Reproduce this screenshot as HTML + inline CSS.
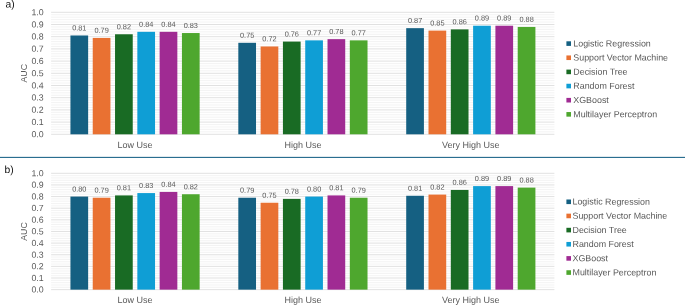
<!DOCTYPE html>
<html><head><meta charset="utf-8"><title>AUC charts</title>
<style>
html,body{margin:0;padding:0;background:#fff;}
body{width:685px;height:305px;overflow:hidden;font-family:"Liberation Sans",sans-serif;}
svg{display:block;will-change:transform;font-family:"Liberation Sans",sans-serif;}
</style></head><body>
<svg width="685" height="305" viewBox="0 0 685 305">
<rect width="685" height="305" fill="#ffffff"/>
<line x1="51.1" x2="554.4" y1="131.86" y2="131.86" stroke="#F0F0F0" stroke-width="0.8"/>
<line x1="51.1" x2="554.4" y1="129.42" y2="129.42" stroke="#F0F0F0" stroke-width="0.8"/>
<line x1="51.1" x2="554.4" y1="126.98" y2="126.98" stroke="#F0F0F0" stroke-width="0.8"/>
<line x1="51.1" x2="554.4" y1="124.54" y2="124.54" stroke="#F0F0F0" stroke-width="0.8"/>
<line x1="51.1" x2="554.4" y1="119.66" y2="119.66" stroke="#F0F0F0" stroke-width="0.8"/>
<line x1="51.1" x2="554.4" y1="117.22" y2="117.22" stroke="#F0F0F0" stroke-width="0.8"/>
<line x1="51.1" x2="554.4" y1="114.78" y2="114.78" stroke="#F0F0F0" stroke-width="0.8"/>
<line x1="51.1" x2="554.4" y1="112.34" y2="112.34" stroke="#F0F0F0" stroke-width="0.8"/>
<line x1="51.1" x2="554.4" y1="107.46" y2="107.46" stroke="#F0F0F0" stroke-width="0.8"/>
<line x1="51.1" x2="554.4" y1="105.02" y2="105.02" stroke="#F0F0F0" stroke-width="0.8"/>
<line x1="51.1" x2="554.4" y1="102.58" y2="102.58" stroke="#F0F0F0" stroke-width="0.8"/>
<line x1="51.1" x2="554.4" y1="100.14" y2="100.14" stroke="#F0F0F0" stroke-width="0.8"/>
<line x1="51.1" x2="554.4" y1="95.26" y2="95.26" stroke="#F0F0F0" stroke-width="0.8"/>
<line x1="51.1" x2="554.4" y1="92.82" y2="92.82" stroke="#F0F0F0" stroke-width="0.8"/>
<line x1="51.1" x2="554.4" y1="90.38" y2="90.38" stroke="#F0F0F0" stroke-width="0.8"/>
<line x1="51.1" x2="554.4" y1="87.94" y2="87.94" stroke="#F0F0F0" stroke-width="0.8"/>
<line x1="51.1" x2="554.4" y1="83.06" y2="83.06" stroke="#F0F0F0" stroke-width="0.8"/>
<line x1="51.1" x2="554.4" y1="80.62" y2="80.62" stroke="#F0F0F0" stroke-width="0.8"/>
<line x1="51.1" x2="554.4" y1="78.18" y2="78.18" stroke="#F0F0F0" stroke-width="0.8"/>
<line x1="51.1" x2="554.4" y1="75.74" y2="75.74" stroke="#F0F0F0" stroke-width="0.8"/>
<line x1="51.1" x2="554.4" y1="70.86" y2="70.86" stroke="#F0F0F0" stroke-width="0.8"/>
<line x1="51.1" x2="554.4" y1="68.42" y2="68.42" stroke="#F0F0F0" stroke-width="0.8"/>
<line x1="51.1" x2="554.4" y1="65.98" y2="65.98" stroke="#F0F0F0" stroke-width="0.8"/>
<line x1="51.1" x2="554.4" y1="63.54" y2="63.54" stroke="#F0F0F0" stroke-width="0.8"/>
<line x1="51.1" x2="554.4" y1="58.66" y2="58.66" stroke="#F0F0F0" stroke-width="0.8"/>
<line x1="51.1" x2="554.4" y1="56.22" y2="56.22" stroke="#F0F0F0" stroke-width="0.8"/>
<line x1="51.1" x2="554.4" y1="53.78" y2="53.78" stroke="#F0F0F0" stroke-width="0.8"/>
<line x1="51.1" x2="554.4" y1="51.34" y2="51.34" stroke="#F0F0F0" stroke-width="0.8"/>
<line x1="51.1" x2="554.4" y1="46.46" y2="46.46" stroke="#F0F0F0" stroke-width="0.8"/>
<line x1="51.1" x2="554.4" y1="44.02" y2="44.02" stroke="#F0F0F0" stroke-width="0.8"/>
<line x1="51.1" x2="554.4" y1="41.58" y2="41.58" stroke="#F0F0F0" stroke-width="0.8"/>
<line x1="51.1" x2="554.4" y1="39.14" y2="39.14" stroke="#F0F0F0" stroke-width="0.8"/>
<line x1="51.1" x2="554.4" y1="34.26" y2="34.26" stroke="#F0F0F0" stroke-width="0.8"/>
<line x1="51.1" x2="554.4" y1="31.82" y2="31.82" stroke="#F0F0F0" stroke-width="0.8"/>
<line x1="51.1" x2="554.4" y1="29.38" y2="29.38" stroke="#F0F0F0" stroke-width="0.8"/>
<line x1="51.1" x2="554.4" y1="26.94" y2="26.94" stroke="#F0F0F0" stroke-width="0.8"/>
<line x1="51.1" x2="554.4" y1="22.06" y2="22.06" stroke="#F0F0F0" stroke-width="0.8"/>
<line x1="51.1" x2="554.4" y1="19.62" y2="19.62" stroke="#F0F0F0" stroke-width="0.8"/>
<line x1="51.1" x2="554.4" y1="17.18" y2="17.18" stroke="#F0F0F0" stroke-width="0.8"/>
<line x1="51.1" x2="554.4" y1="14.74" y2="14.74" stroke="#F0F0F0" stroke-width="0.8"/>
<line x1="51.1" x2="554.4" y1="134.30" y2="134.30" stroke="#D9D9D9" stroke-width="0.8"/>
<text transform="translate(43.70,137.20) rotate(0.05)" text-anchor="end" font-size="8.8" fill="#595959">0.0</text>
<line x1="51.1" x2="554.4" y1="122.10" y2="122.10" stroke="#D9D9D9" stroke-width="0.8"/>
<text transform="translate(43.70,125.00) rotate(0.05)" text-anchor="end" font-size="8.8" fill="#595959">0.1</text>
<line x1="51.1" x2="554.4" y1="109.90" y2="109.90" stroke="#D9D9D9" stroke-width="0.8"/>
<text transform="translate(43.70,112.80) rotate(0.05)" text-anchor="end" font-size="8.8" fill="#595959">0.2</text>
<line x1="51.1" x2="554.4" y1="97.70" y2="97.70" stroke="#D9D9D9" stroke-width="0.8"/>
<text transform="translate(43.70,100.60) rotate(0.05)" text-anchor="end" font-size="8.8" fill="#595959">0.3</text>
<line x1="51.1" x2="554.4" y1="85.50" y2="85.50" stroke="#D9D9D9" stroke-width="0.8"/>
<text transform="translate(43.70,88.40) rotate(0.05)" text-anchor="end" font-size="8.8" fill="#595959">0.4</text>
<line x1="51.1" x2="554.4" y1="73.30" y2="73.30" stroke="#D9D9D9" stroke-width="0.8"/>
<text transform="translate(43.70,76.20) rotate(0.05)" text-anchor="end" font-size="8.8" fill="#595959">0.5</text>
<line x1="51.1" x2="554.4" y1="61.10" y2="61.10" stroke="#D9D9D9" stroke-width="0.8"/>
<text transform="translate(43.70,64.00) rotate(0.05)" text-anchor="end" font-size="8.8" fill="#595959">0.6</text>
<line x1="51.1" x2="554.4" y1="48.90" y2="48.90" stroke="#D9D9D9" stroke-width="0.8"/>
<text transform="translate(43.70,51.80) rotate(0.05)" text-anchor="end" font-size="8.8" fill="#595959">0.7</text>
<line x1="51.1" x2="554.4" y1="36.70" y2="36.70" stroke="#D9D9D9" stroke-width="0.8"/>
<text transform="translate(43.70,39.60) rotate(0.05)" text-anchor="end" font-size="8.8" fill="#595959">0.8</text>
<line x1="51.1" x2="554.4" y1="24.50" y2="24.50" stroke="#D9D9D9" stroke-width="0.8"/>
<text transform="translate(43.70,27.40) rotate(0.05)" text-anchor="end" font-size="8.8" fill="#595959">0.9</text>
<line x1="51.1" x2="554.4" y1="12.30" y2="12.30" stroke="#D9D9D9" stroke-width="0.8"/>
<text transform="translate(43.70,15.20) rotate(0.05)" text-anchor="end" font-size="8.8" fill="#595959">1.0</text>
<rect x="70.44" y="35.48" width="17.7" height="98.82" fill="#156082"/>
<text transform="translate(79.29,30.38) rotate(0.05)" text-anchor="middle" font-size="7.35" fill="#595959">0.81</text>
<rect x="92.74" y="37.92" width="17.7" height="96.38" fill="#E97132"/>
<text transform="translate(101.59,32.82) rotate(0.05)" text-anchor="middle" font-size="7.35" fill="#595959">0.79</text>
<rect x="115.04" y="34.26" width="17.7" height="100.04" fill="#196B24"/>
<text transform="translate(123.89,29.16) rotate(0.05)" text-anchor="middle" font-size="7.35" fill="#595959">0.82</text>
<rect x="137.34" y="31.82" width="17.7" height="102.48" fill="#0F9ED5"/>
<text transform="translate(146.19,26.72) rotate(0.05)" text-anchor="middle" font-size="7.35" fill="#595959">0.84</text>
<rect x="159.64" y="31.82" width="17.7" height="102.48" fill="#A02B93"/>
<text transform="translate(168.49,26.72) rotate(0.05)" text-anchor="middle" font-size="7.35" fill="#595959">0.84</text>
<rect x="181.94" y="33.04" width="17.7" height="101.26" fill="#4EA72E"/>
<text transform="translate(190.79,27.94) rotate(0.05)" text-anchor="middle" font-size="7.35" fill="#595959">0.83</text>
<text transform="translate(135.04,148.10) rotate(0.05)" text-anchor="middle" font-size="9.0" fill="#595959">Low Use</text>
<rect x="238.32" y="42.80" width="17.7" height="91.50" fill="#156082"/>
<text transform="translate(247.17,37.70) rotate(0.05)" text-anchor="middle" font-size="7.35" fill="#595959">0.75</text>
<rect x="260.62" y="46.46" width="17.7" height="87.84" fill="#E97132"/>
<text transform="translate(269.48,41.36) rotate(0.05)" text-anchor="middle" font-size="7.35" fill="#595959">0.72</text>
<rect x="282.93" y="41.58" width="17.7" height="92.72" fill="#196B24"/>
<text transform="translate(291.78,36.48) rotate(0.05)" text-anchor="middle" font-size="7.35" fill="#595959">0.76</text>
<rect x="305.23" y="40.36" width="17.7" height="93.94" fill="#0F9ED5"/>
<text transform="translate(314.08,35.26) rotate(0.05)" text-anchor="middle" font-size="7.35" fill="#595959">0.77</text>
<rect x="327.52" y="39.14" width="17.7" height="95.16" fill="#A02B93"/>
<text transform="translate(336.38,34.04) rotate(0.05)" text-anchor="middle" font-size="7.35" fill="#595959">0.78</text>
<rect x="349.82" y="40.36" width="17.7" height="93.94" fill="#4EA72E"/>
<text transform="translate(358.68,35.26) rotate(0.05)" text-anchor="middle" font-size="7.35" fill="#595959">0.77</text>
<text transform="translate(302.93,148.10) rotate(0.05)" text-anchor="middle" font-size="9.0" fill="#595959">High Use</text>
<rect x="406.21" y="28.16" width="17.7" height="106.14" fill="#156082"/>
<text transform="translate(415.06,23.06) rotate(0.05)" text-anchor="middle" font-size="7.35" fill="#595959">0.87</text>
<rect x="428.51" y="30.60" width="17.7" height="103.70" fill="#E97132"/>
<text transform="translate(437.36,25.50) rotate(0.05)" text-anchor="middle" font-size="7.35" fill="#595959">0.85</text>
<rect x="450.81" y="29.38" width="17.7" height="104.92" fill="#196B24"/>
<text transform="translate(459.66,24.28) rotate(0.05)" text-anchor="middle" font-size="7.35" fill="#595959">0.86</text>
<rect x="473.11" y="25.72" width="17.7" height="108.58" fill="#0F9ED5"/>
<text transform="translate(481.96,20.62) rotate(0.05)" text-anchor="middle" font-size="7.35" fill="#595959">0.89</text>
<rect x="495.41" y="25.72" width="17.7" height="108.58" fill="#A02B93"/>
<text transform="translate(504.26,20.62) rotate(0.05)" text-anchor="middle" font-size="7.35" fill="#595959">0.89</text>
<rect x="517.71" y="26.94" width="17.7" height="107.36" fill="#4EA72E"/>
<text transform="translate(526.56,21.84) rotate(0.05)" text-anchor="middle" font-size="7.35" fill="#595959">0.88</text>
<text transform="translate(470.81,148.10) rotate(0.05)" text-anchor="middle" font-size="9.0" fill="#595959">Very High Use</text>
<text transform="translate(27.20,73.30) rotate(-90)" text-anchor="middle" font-size="8.8" fill="#595959">AUC</text>
<rect x="566.4" y="41.30" width="4.6" height="4.6" fill="#156082"/>
<text transform="translate(573.30,46.40) rotate(0.05)" text-anchor="start" font-size="8.9" fill="#595959">Logistic Regression</text>
<rect x="566.4" y="55.45" width="4.6" height="4.6" fill="#E97132"/>
<text transform="translate(573.30,60.55) rotate(0.05)" text-anchor="start" font-size="8.9" fill="#595959">Support Vector Machine</text>
<rect x="566.4" y="69.60" width="4.6" height="4.6" fill="#196B24"/>
<text transform="translate(573.30,74.70) rotate(0.05)" text-anchor="start" font-size="8.9" fill="#595959">Decision Tree</text>
<rect x="566.4" y="83.75" width="4.6" height="4.6" fill="#0F9ED5"/>
<text transform="translate(573.30,88.85) rotate(0.05)" text-anchor="start" font-size="8.9" fill="#595959">Random Forest</text>
<rect x="566.4" y="97.90" width="4.6" height="4.6" fill="#A02B93"/>
<text transform="translate(573.30,103.00) rotate(0.05)" text-anchor="start" font-size="8.9" fill="#595959">XGBoost</text>
<rect x="566.4" y="112.05" width="4.6" height="4.6" fill="#4EA72E"/>
<text transform="translate(573.30,117.15) rotate(0.05)" text-anchor="start" font-size="8.9" fill="#595959">Multilayer Perceptron</text>
<text transform="translate(5.40,7.50) rotate(0.05)" text-anchor="start" font-size="10.3" fill="#111111">a)</text>
<rect x="0" y="156.85" width="685" height="1.15" fill="#2A6E90"/>
<line x1="51.1" x2="554.4" y1="287.32" y2="287.32" stroke="#F0F0F0" stroke-width="0.8"/>
<line x1="51.1" x2="554.4" y1="285.00" y2="285.00" stroke="#F0F0F0" stroke-width="0.8"/>
<line x1="51.1" x2="554.4" y1="282.67" y2="282.67" stroke="#F0F0F0" stroke-width="0.8"/>
<line x1="51.1" x2="554.4" y1="280.34" y2="280.34" stroke="#F0F0F0" stroke-width="0.8"/>
<line x1="51.1" x2="554.4" y1="275.69" y2="275.69" stroke="#F0F0F0" stroke-width="0.8"/>
<line x1="51.1" x2="554.4" y1="273.36" y2="273.36" stroke="#F0F0F0" stroke-width="0.8"/>
<line x1="51.1" x2="554.4" y1="271.03" y2="271.03" stroke="#F0F0F0" stroke-width="0.8"/>
<line x1="51.1" x2="554.4" y1="268.71" y2="268.71" stroke="#F0F0F0" stroke-width="0.8"/>
<line x1="51.1" x2="554.4" y1="264.05" y2="264.05" stroke="#F0F0F0" stroke-width="0.8"/>
<line x1="51.1" x2="554.4" y1="261.73" y2="261.73" stroke="#F0F0F0" stroke-width="0.8"/>
<line x1="51.1" x2="554.4" y1="259.40" y2="259.40" stroke="#F0F0F0" stroke-width="0.8"/>
<line x1="51.1" x2="554.4" y1="257.07" y2="257.07" stroke="#F0F0F0" stroke-width="0.8"/>
<line x1="51.1" x2="554.4" y1="252.42" y2="252.42" stroke="#F0F0F0" stroke-width="0.8"/>
<line x1="51.1" x2="554.4" y1="250.09" y2="250.09" stroke="#F0F0F0" stroke-width="0.8"/>
<line x1="51.1" x2="554.4" y1="247.76" y2="247.76" stroke="#F0F0F0" stroke-width="0.8"/>
<line x1="51.1" x2="554.4" y1="245.44" y2="245.44" stroke="#F0F0F0" stroke-width="0.8"/>
<line x1="51.1" x2="554.4" y1="240.78" y2="240.78" stroke="#F0F0F0" stroke-width="0.8"/>
<line x1="51.1" x2="554.4" y1="238.46" y2="238.46" stroke="#F0F0F0" stroke-width="0.8"/>
<line x1="51.1" x2="554.4" y1="236.13" y2="236.13" stroke="#F0F0F0" stroke-width="0.8"/>
<line x1="51.1" x2="554.4" y1="233.80" y2="233.80" stroke="#F0F0F0" stroke-width="0.8"/>
<line x1="51.1" x2="554.4" y1="229.15" y2="229.15" stroke="#F0F0F0" stroke-width="0.8"/>
<line x1="51.1" x2="554.4" y1="226.82" y2="226.82" stroke="#F0F0F0" stroke-width="0.8"/>
<line x1="51.1" x2="554.4" y1="224.49" y2="224.49" stroke="#F0F0F0" stroke-width="0.8"/>
<line x1="51.1" x2="554.4" y1="222.17" y2="222.17" stroke="#F0F0F0" stroke-width="0.8"/>
<line x1="51.1" x2="554.4" y1="217.51" y2="217.51" stroke="#F0F0F0" stroke-width="0.8"/>
<line x1="51.1" x2="554.4" y1="215.19" y2="215.19" stroke="#F0F0F0" stroke-width="0.8"/>
<line x1="51.1" x2="554.4" y1="212.86" y2="212.86" stroke="#F0F0F0" stroke-width="0.8"/>
<line x1="51.1" x2="554.4" y1="210.53" y2="210.53" stroke="#F0F0F0" stroke-width="0.8"/>
<line x1="51.1" x2="554.4" y1="205.88" y2="205.88" stroke="#F0F0F0" stroke-width="0.8"/>
<line x1="51.1" x2="554.4" y1="203.55" y2="203.55" stroke="#F0F0F0" stroke-width="0.8"/>
<line x1="51.1" x2="554.4" y1="201.22" y2="201.22" stroke="#F0F0F0" stroke-width="0.8"/>
<line x1="51.1" x2="554.4" y1="198.90" y2="198.90" stroke="#F0F0F0" stroke-width="0.8"/>
<line x1="51.1" x2="554.4" y1="194.24" y2="194.24" stroke="#F0F0F0" stroke-width="0.8"/>
<line x1="51.1" x2="554.4" y1="191.92" y2="191.92" stroke="#F0F0F0" stroke-width="0.8"/>
<line x1="51.1" x2="554.4" y1="189.59" y2="189.59" stroke="#F0F0F0" stroke-width="0.8"/>
<line x1="51.1" x2="554.4" y1="187.26" y2="187.26" stroke="#F0F0F0" stroke-width="0.8"/>
<line x1="51.1" x2="554.4" y1="182.61" y2="182.61" stroke="#F0F0F0" stroke-width="0.8"/>
<line x1="51.1" x2="554.4" y1="180.28" y2="180.28" stroke="#F0F0F0" stroke-width="0.8"/>
<line x1="51.1" x2="554.4" y1="177.95" y2="177.95" stroke="#F0F0F0" stroke-width="0.8"/>
<line x1="51.1" x2="554.4" y1="175.63" y2="175.63" stroke="#F0F0F0" stroke-width="0.8"/>
<line x1="51.1" x2="554.4" y1="289.65" y2="289.65" stroke="#D9D9D9" stroke-width="0.8"/>
<text transform="translate(43.70,292.55) rotate(0.05)" text-anchor="end" font-size="8.8" fill="#595959">0.0</text>
<line x1="51.1" x2="554.4" y1="278.01" y2="278.01" stroke="#D9D9D9" stroke-width="0.8"/>
<text transform="translate(43.70,280.91) rotate(0.05)" text-anchor="end" font-size="8.8" fill="#595959">0.1</text>
<line x1="51.1" x2="554.4" y1="266.38" y2="266.38" stroke="#D9D9D9" stroke-width="0.8"/>
<text transform="translate(43.70,269.28) rotate(0.05)" text-anchor="end" font-size="8.8" fill="#595959">0.2</text>
<line x1="51.1" x2="554.4" y1="254.75" y2="254.75" stroke="#D9D9D9" stroke-width="0.8"/>
<text transform="translate(43.70,257.64) rotate(0.05)" text-anchor="end" font-size="8.8" fill="#595959">0.3</text>
<line x1="51.1" x2="554.4" y1="243.11" y2="243.11" stroke="#D9D9D9" stroke-width="0.8"/>
<text transform="translate(43.70,246.01) rotate(0.05)" text-anchor="end" font-size="8.8" fill="#595959">0.4</text>
<line x1="51.1" x2="554.4" y1="231.47" y2="231.47" stroke="#D9D9D9" stroke-width="0.8"/>
<text transform="translate(43.70,234.38) rotate(0.05)" text-anchor="end" font-size="8.8" fill="#595959">0.5</text>
<line x1="51.1" x2="554.4" y1="219.84" y2="219.84" stroke="#D9D9D9" stroke-width="0.8"/>
<text transform="translate(43.70,222.74) rotate(0.05)" text-anchor="end" font-size="8.8" fill="#595959">0.6</text>
<line x1="51.1" x2="554.4" y1="208.20" y2="208.20" stroke="#D9D9D9" stroke-width="0.8"/>
<text transform="translate(43.70,211.10) rotate(0.05)" text-anchor="end" font-size="8.8" fill="#595959">0.7</text>
<line x1="51.1" x2="554.4" y1="196.57" y2="196.57" stroke="#D9D9D9" stroke-width="0.8"/>
<text transform="translate(43.70,199.47) rotate(0.05)" text-anchor="end" font-size="8.8" fill="#595959">0.8</text>
<line x1="51.1" x2="554.4" y1="184.94" y2="184.94" stroke="#D9D9D9" stroke-width="0.8"/>
<text transform="translate(43.70,187.84) rotate(0.05)" text-anchor="end" font-size="8.8" fill="#595959">0.9</text>
<line x1="51.1" x2="554.4" y1="173.30" y2="173.30" stroke="#D9D9D9" stroke-width="0.8"/>
<text transform="translate(43.70,176.20) rotate(0.05)" text-anchor="end" font-size="8.8" fill="#595959">1.0</text>
<rect x="70.44" y="196.57" width="17.7" height="93.08" fill="#156082"/>
<text transform="translate(79.29,191.47) rotate(0.05)" text-anchor="middle" font-size="7.35" fill="#595959">0.80</text>
<rect x="92.74" y="197.73" width="17.7" height="91.92" fill="#E97132"/>
<text transform="translate(101.59,192.63) rotate(0.05)" text-anchor="middle" font-size="7.35" fill="#595959">0.79</text>
<rect x="115.04" y="195.41" width="17.7" height="94.24" fill="#196B24"/>
<text transform="translate(123.89,190.31) rotate(0.05)" text-anchor="middle" font-size="7.35" fill="#595959">0.81</text>
<rect x="137.34" y="193.08" width="17.7" height="96.57" fill="#0F9ED5"/>
<text transform="translate(146.19,187.98) rotate(0.05)" text-anchor="middle" font-size="7.35" fill="#595959">0.83</text>
<rect x="159.64" y="191.92" width="17.7" height="97.73" fill="#A02B93"/>
<text transform="translate(168.49,186.82) rotate(0.05)" text-anchor="middle" font-size="7.35" fill="#595959">0.84</text>
<rect x="181.94" y="194.24" width="17.7" height="95.41" fill="#4EA72E"/>
<text transform="translate(190.79,189.14) rotate(0.05)" text-anchor="middle" font-size="7.35" fill="#595959">0.82</text>
<text transform="translate(135.04,303.00) rotate(0.05)" text-anchor="middle" font-size="9.0" fill="#595959">Low Use</text>
<rect x="238.32" y="197.73" width="17.7" height="91.92" fill="#156082"/>
<text transform="translate(247.17,192.63) rotate(0.05)" text-anchor="middle" font-size="7.35" fill="#595959">0.79</text>
<rect x="260.62" y="202.74" width="17.7" height="86.91" fill="#E97132"/>
<text transform="translate(269.48,197.64) rotate(0.05)" text-anchor="middle" font-size="7.35" fill="#595959">0.75</text>
<rect x="282.93" y="198.90" width="17.7" height="90.75" fill="#196B24"/>
<text transform="translate(291.78,193.80) rotate(0.05)" text-anchor="middle" font-size="7.35" fill="#595959">0.78</text>
<rect x="305.23" y="196.57" width="17.7" height="93.08" fill="#0F9ED5"/>
<text transform="translate(314.08,191.47) rotate(0.05)" text-anchor="middle" font-size="7.35" fill="#595959">0.80</text>
<rect x="327.52" y="195.41" width="17.7" height="94.24" fill="#A02B93"/>
<text transform="translate(336.38,190.31) rotate(0.05)" text-anchor="middle" font-size="7.35" fill="#595959">0.81</text>
<rect x="349.82" y="197.73" width="17.7" height="91.92" fill="#4EA72E"/>
<text transform="translate(358.68,192.63) rotate(0.05)" text-anchor="middle" font-size="7.35" fill="#595959">0.79</text>
<text transform="translate(302.93,303.00) rotate(0.05)" text-anchor="middle" font-size="9.0" fill="#595959">High Use</text>
<rect x="406.21" y="195.76" width="17.7" height="93.89" fill="#156082"/>
<text transform="translate(415.06,190.66) rotate(0.05)" text-anchor="middle" font-size="7.35" fill="#595959">0.81</text>
<rect x="428.51" y="194.59" width="17.7" height="95.06" fill="#E97132"/>
<text transform="translate(437.36,189.49) rotate(0.05)" text-anchor="middle" font-size="7.35" fill="#595959">0.82</text>
<rect x="450.81" y="189.94" width="17.7" height="99.71" fill="#196B24"/>
<text transform="translate(459.66,184.84) rotate(0.05)" text-anchor="middle" font-size="7.35" fill="#595959">0.86</text>
<rect x="473.11" y="186.10" width="17.7" height="103.55" fill="#0F9ED5"/>
<text transform="translate(481.96,181.00) rotate(0.05)" text-anchor="middle" font-size="7.35" fill="#595959">0.89</text>
<rect x="495.41" y="186.10" width="17.7" height="103.55" fill="#A02B93"/>
<text transform="translate(504.26,181.00) rotate(0.05)" text-anchor="middle" font-size="7.35" fill="#595959">0.89</text>
<rect x="517.71" y="187.61" width="17.7" height="102.04" fill="#4EA72E"/>
<text transform="translate(526.56,182.51) rotate(0.05)" text-anchor="middle" font-size="7.35" fill="#595959">0.88</text>
<text transform="translate(470.81,303.00) rotate(0.05)" text-anchor="middle" font-size="9.0" fill="#595959">Very High Use</text>
<text transform="translate(27.20,231.47) rotate(-90)" text-anchor="middle" font-size="8.8" fill="#595959">AUC</text>
<rect x="566.4" y="199.50" width="4.6" height="4.6" fill="#156082"/>
<text transform="translate(572.50,204.60) rotate(0.05)" text-anchor="start" font-size="8.9" fill="#595959">Logistic Regression</text>
<rect x="566.4" y="213.65" width="4.6" height="4.6" fill="#E97132"/>
<text transform="translate(572.50,218.75) rotate(0.05)" text-anchor="start" font-size="8.9" fill="#595959">Support Vector Machine</text>
<rect x="566.4" y="227.80" width="4.6" height="4.6" fill="#196B24"/>
<text transform="translate(572.50,232.90) rotate(0.05)" text-anchor="start" font-size="8.9" fill="#595959">Decision Tree</text>
<rect x="566.4" y="241.95" width="4.6" height="4.6" fill="#0F9ED5"/>
<text transform="translate(572.50,247.05) rotate(0.05)" text-anchor="start" font-size="8.9" fill="#595959">Random Forest</text>
<rect x="566.4" y="256.10" width="4.6" height="4.6" fill="#A02B93"/>
<text transform="translate(572.50,261.20) rotate(0.05)" text-anchor="start" font-size="8.9" fill="#595959">XGBoost</text>
<rect x="566.4" y="270.25" width="4.6" height="4.6" fill="#4EA72E"/>
<text transform="translate(572.50,275.35) rotate(0.05)" text-anchor="start" font-size="8.9" fill="#595959">Multilayer Perceptron</text>
<text transform="translate(4.60,173.10) rotate(0.05)" text-anchor="start" font-size="10.3" fill="#111111">b)</text>
</svg>
</body></html>
